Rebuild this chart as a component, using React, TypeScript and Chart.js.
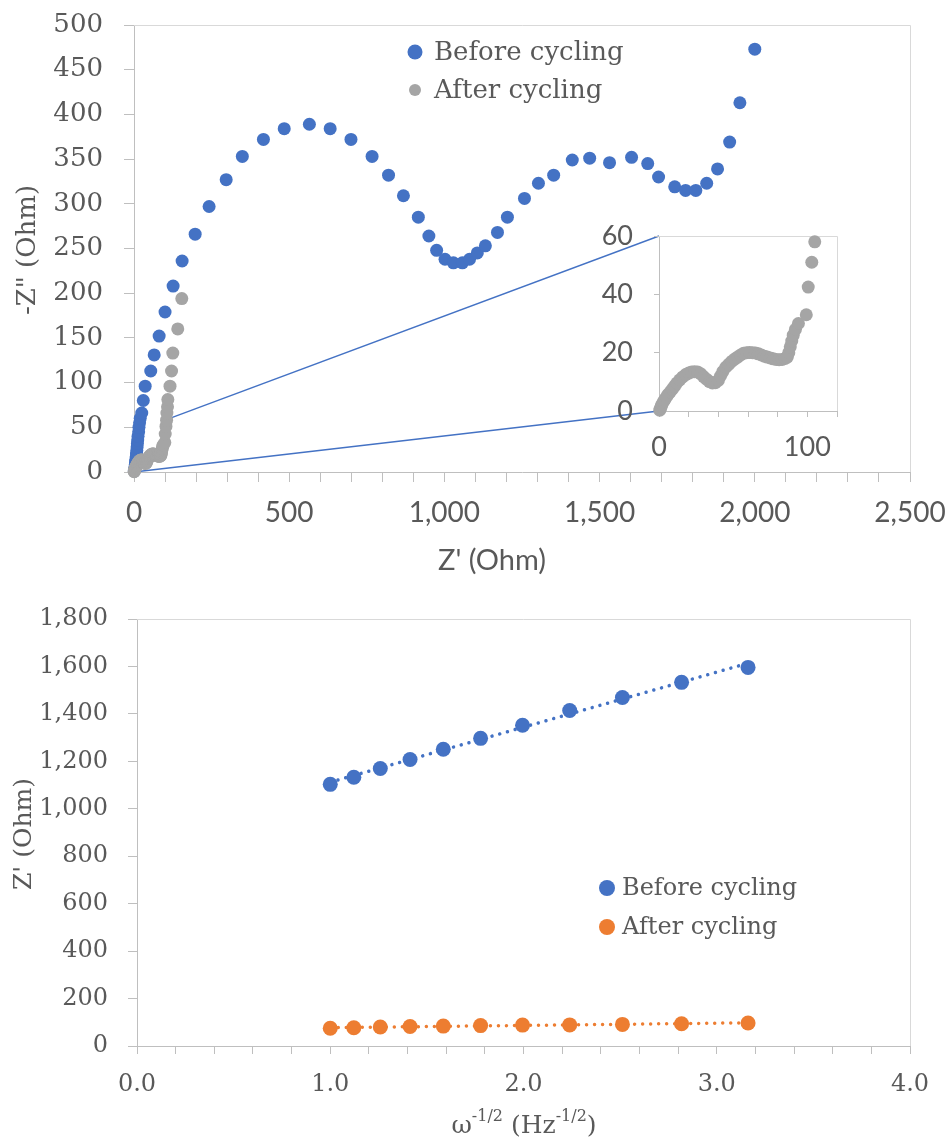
import React, { useEffect, useRef } from "react";
import { Chart, registerables } from "chart.js";

Chart.register(...registerables);

// ---------------- DATA ----------------
const seriesLabels = ["Before cycling", "After cycling"];

// Nyquist, before cycling: Z' (Ohm) and -Z'' (Ohm)
const beforeZre = [1, 2, 3, 4, 5, 6, 7, 8, 9, 10, 11, 12, 13, 15, 16, 18, 20, 25, 30, 36, 54, 65, 81, 100, 126,
  155, 197, 242, 297, 349, 417, 484, 565, 632, 699, 767, 820, 868, 916, 950, 975, 1002, 1029, 1058, 1081, 1106,
  1132, 1171, 1203, 1258, 1303, 1352, 1412, 1468, 1532, 1603, 1655, 1690, 1742, 1777, 1810, 1845, 1880, 1919,
  1952, 2000];
const beforeZim = [1, 3, 5, 8, 11, 14, 17, 20, 24, 28, 32, 36, 40, 45, 50, 55, 60, 66, 80, 96, 113, 131, 152, 179,
  208, 236, 266, 297, 327, 353, 372, 384, 389, 384, 372, 353, 332, 309, 285, 264, 248, 238, 234, 234, 238, 245,
  253, 268, 285, 306, 323, 332, 349, 351, 346, 352, 345, 330, 319, 315, 315, 323, 339, 369, 413, 473];

// Nyquist, after cycling
const afterZre = [0.5, 1, 1.5, 2, 3, 4, 5, 6, 7.5, 9, 10.5, 12, 14, 16, 18, 20, 22, 24, 26, 28, 30, 32, 34, 36, 38,
  40, 41.5, 43, 45, 47, 49, 51, 53, 55, 57, 59, 61, 63, 65, 67, 69, 71, 73, 75, 77, 79, 81, 83, 85, 86.5, 87.5,
  88.5, 89.5, 90.5, 92, 94, 99.3, 100.6, 103, 105, 106, 108, 109, 116, 121, 125, 141, 154];
const afterZim = [0.3, 0.9, 1.6, 2.3, 3.2, 4, 4.8, 5.6, 6.5, 7.5, 8.5, 9.6, 10.7, 11.7, 12.5, 13, 13.4, 13.5, 13.4,
  12.8, 11.8, 10.9, 10.1, 9.6, 9.7, 10.5, 12, 13.5, 15, 16, 17, 17.8, 18.5, 19.2, 19.8, 20, 20.1, 20, 19.9, 19.6,
  19.2, 18.8, 18.5, 18.2, 17.9, 17.7, 17.6, 17.7, 18, 18.5, 20, 22, 24, 26, 28, 30, 33, 42.5, 51, 58, 66, 73, 81,
  96, 113, 133, 160, 194];

// zoom connector source points in the main plot (Z', -Z'')
const zoomSourceX = [0, 115];
const zoomSourceY = [0, 60];

// Warburg plot: omega^-1/2 (Hz^-1/2) vs Z' (Ohm)
const warburgX = [1.0, 1.122, 1.259, 1.413, 1.585, 1.778, 1.995, 2.239, 2.512, 2.818, 3.162];
const warburgBefore = [1103, 1133, 1170, 1208, 1251, 1297, 1352, 1414, 1469, 1533, 1596];
const warburgAfter = [75, 77, 80, 82, 84, 86, 88, 89, 91, 94, 97];

// axis ranges / tick steps
const nyqX = { min: 0, max: 2500, step: 100, labelEvery: 500 };
const nyqY = { min: 0, max: 500, step: 50 };
const insetX = { min: 0, max: 120, step: 20, labelEvery: 100 };
const insetY = { min: 0, max: 60, step: 20 };
const warX = { min: 0, max: 4, step: 0.2, labelEvery: 1 };
const warY = { min: 0, max: 1800, step: 200 };

// ---------------- STYLE ----------------
const BLUE = "#4472C4";
const GRAY = "#A5A5A5";
const ORANGE = "#ED7D31";
const TEXT = "#595959";
const AXIS = "#BFBFBF";
const FRAME = "#D9D9D9";
const SERIF = '"DejaVu Serif", serif';
const SANS = 'Lato, "Open Sans", sans-serif';

const pts = (xs: number[], ys: number[]) => xs.map((x, i) => ({ x, y: ys[i] }));
const fmt = (v: number) => v.toLocaleString("en-US");
const isMultiple = (v: number, m: number) => Math.abs(v / m - Math.round(v / m)) < 1e-6;

function linearFit(xs: number[], ys: number[]) {
  const n = xs.length;
  const mx = xs.reduce((a, b) => a + b, 0) / n;
  const my = ys.reduce((a, b) => a + b, 0) / n;
  let sxy = 0, sxx = 0;
  for (let i = 0; i < n; i++) {
    sxy += (xs[i] - mx) * (ys[i] - my);
    sxx += (xs[i] - mx) * (xs[i] - mx);
  }
  const b = sxy / sxx;
  const a = my - b * mx;
  const x0 = Math.min(...xs), x1 = Math.max(...xs);
  return [{ x: x0, y: a + b * x0 }, { x: x1, y: a + b * x1 }];
}

// fix an axis' thickness and drop the label-overflow padding so the plot area lands where we want it
const fixSize = (prop: "width" | "height", value: number) => (s: any) => {
  s[prop] = value;
  s.paddingTop = 0;
  s.paddingBottom = 0;
  s.paddingLeft = 0;
  s.paddingRight = 0;
};

// ---------------- PLUGINS ----------------
const makeFramePlugin = () => ({
  id: "frame",
  beforeDatasetsDraw(chart: any) {
    const { left, top, right, bottom } = chart.chartArea;
    const ctx = chart.ctx;
    ctx.save();
    ctx.strokeStyle = FRAME;
    ctx.lineWidth = 1;
    ctx.beginPath();
    ctx.moveTo(left, Math.round(top) + 0.5);
    ctx.lineTo(Math.round(right) + 0.5, Math.round(top) + 0.5);
    ctx.lineTo(Math.round(right) + 0.5, bottom);
    ctx.stroke();
    ctx.restore();
  },
});

type Part = { t: string; sup?: boolean };
type TextItem = { parts: Part[]; x: number; y: number; size: number; family: string; rotate?: boolean };

const makeTextPlugin = (items: TextItem[]) => ({
  id: "texts",
  afterDraw(chart: any) {
    const ctx = chart.ctx;
    for (const it of items) {
      ctx.save();
      ctx.translate(it.x, it.y);
      if (it.rotate) ctx.rotate(-Math.PI / 2);
      ctx.fillStyle = TEXT;
      ctx.textBaseline = "middle";
      ctx.textAlign = "left";
      const supSize = Math.round(it.size * 0.62);
      let total = 0;
      const widths = it.parts.map((p) => {
        ctx.font = `${p.sup ? supSize : it.size}px ${it.family}`;
        const w = ctx.measureText(p.t).width;
        total += w;
        return w;
      });
      let cx = -total / 2;
      it.parts.forEach((p, i) => {
        ctx.font = `${p.sup ? supSize : it.size}px ${it.family}`;
        ctx.fillText(p.t, cx, p.sup ? -it.size * 0.36 : 0);
        cx += widths[i];
      });
      ctx.restore();
    }
  },
});

type LegendSpec = { x: number; y: number; gap: number; textGap: number; size: number };
const makeLegendPlugin = (spec: LegendSpec) => ({
  id: "customLegend",
  afterDraw(chart: any) {
    const ctx = chart.ctx;
    let i = 0;
    chart.data.datasets.forEach((ds: any) => {
      if (ds.inLegend === false) return;
      const y = spec.y + i * spec.gap;
      ctx.save();
      ctx.beginPath();
      ctx.arc(spec.x, y, ds.legendRadius ?? 7.5, 0, Math.PI * 2);
      ctx.fillStyle = ds.pointBackgroundColor;
      ctx.fill();
      ctx.font = `${spec.size}px ${SERIF}`;
      ctx.fillStyle = TEXT;
      ctx.textBaseline = "middle";
      ctx.textAlign = "left";
      ctx.fillText(ds.label, spec.x + spec.textGap, y + 1);
      ctx.restore();
      i++;
    });
  },
});

const makeConnectorPlugin = (getInset: () => { chart: any; left: number; top: number } | null) => ({
  id: "zoomConnectors",
  beforeDatasetsDraw(chart: any) {
    const inset = getInset();
    if (!inset || !inset.chart.chartArea) return;
    const ca = inset.chart.chartArea;
    const xs = chart.scales.x, ys = chart.scales.y;
    const ctx = chart.ctx;
    ctx.save();
    ctx.strokeStyle = BLUE;
    ctx.lineWidth = 1.4;
    zoomSourceX.forEach((zx, i) => {
      const tx = inset.left + ca.left;
      const ty = inset.top + (i === 0 ? ca.bottom : ca.top);
      ctx.beginPath();
      ctx.moveTo(xs.getPixelForValue(zx), ys.getPixelForValue(zoomSourceY[i]));
      ctx.lineTo(tx, ty);
      ctx.stroke();
    });
    ctx.restore();
  },
});

const axisGrid = (tickLength: number) => ({
  display: true,
  drawOnChartArea: false,
  drawTicks: true,
  tickLength,
  color: AXIS,
  lineWidth: 1,
});

const pointStyle = (color: string, r: number) => ({
  pointBackgroundColor: color,
  pointBorderColor: color,
  backgroundColor: color,
  borderColor: color,
  pointRadius: r,
  pointHoverRadius: r,
  pointBorderWidth: 0,
});

// ---------------- LAYOUT CONSTANTS ----------------
const INSET_LEFT = 560;
const INSET_TOP = 210;
const BOTTOM_TOP = 590;

export default function App() {
  const topRef = useRef<HTMLCanvasElement>(null);
  const insetRef = useRef<HTMLCanvasElement>(null);
  const bottomRef = useRef<HTMLCanvasElement>(null);

  useEffect(() => {
    if (!topRef.current || !insetRef.current || !bottomRef.current) return;

    const common = {
      responsive: false,
      animation: false as const,
      devicePixelRatio: 1,
      events: [] as any[],
    };

    // ---- inset chart ----
    const insetChart = new Chart(insetRef.current, {
      type: "scatter",
      data: {
        datasets: [
          { label: seriesLabels[1], data: pts(afterZre, afterZim), ...pointStyle(GRAY, 6.5), clip: 8 } as any,
        ],
      },
      options: {
        ...common,
        layout: { padding: { top: 26, right: 23, left: 0, bottom: 0 } },
        plugins: { legend: { display: false }, tooltip: { enabled: false } },
        scales: {
          x: {
            type: "linear",
            min: insetX.min,
            max: insetX.max,
            afterFit: fixSize("height", 59),
            ticks: {
              stepSize: insetX.step, autoSkip: false, maxRotation: 0, padding: 14, color: TEXT,
              font: { family: SANS, size: 27 },
              callback: (v: any) => (isMultiple(v, insetX.labelEvery) ? String(v) : ""),
            },
            grid: axisGrid(6),
            border: { display: true, color: AXIS },
          },
          y: {
            type: "linear",
            min: insetY.min,
            max: insetY.max,
            afterFit: fixSize("width", 99),
            ticks: {
              stepSize: insetY.step, padding: 21, color: TEXT, font: { family: SANS, size: 27 },
            },
            grid: axisGrid(5),
            border: { display: true, color: AXIS },
          },
        },
      } as any,
      plugins: [makeFramePlugin()],
    });

    // ---- main Nyquist chart ----
    const topChart = new Chart(topRef.current, {
      type: "scatter",
      data: {
        datasets: [
          { label: seriesLabels[0], data: pts(beforeZre, beforeZim), ...pointStyle(BLUE, 6.5), order: 1, clip: false, legendRadius: 7.5 } as any,
          { label: seriesLabels[1], data: pts(afterZre, afterZim), ...pointStyle(GRAY, 6.5), order: 0, clip: false, legendRadius: 6 } as any,
        ],
      },
      options: {
        ...common,
        layout: { padding: { top: 25, right: 40, left: 0, bottom: 0 } },
        plugins: { legend: { display: false }, tooltip: { enabled: false } },
        scales: {
          x: {
            type: "linear",
            min: nyqX.min,
            max: nyqX.max,
            afterFit: fixSize("height", 118),
            ticks: {
              stepSize: nyqX.step, autoSkip: false, maxRotation: 0, padding: 14, color: TEXT,
              font: { family: SANS, size: 28 },
              callback: (v: any) => (isMultiple(v, nyqX.labelEvery) ? fmt(v) : ""),
            },
            grid: axisGrid(10),
            border: { display: true, color: AXIS },
          },
          y: {
            type: "linear",
            min: nyqY.min,
            max: nyqY.max,
            afterFit: fixSize("width", 134),
            ticks: {
              stepSize: nyqY.step, padding: 21, color: TEXT, font: { family: SERIF, size: 26 },
              callback: (v: any) => fmt(v),
            },
            grid: axisGrid(10),
            border: { display: true, color: AXIS },
          },
        },
      } as any,
      plugins: [
        makeFramePlugin(),
        makeConnectorPlugin(() => ({ chart: insetChart, left: INSET_LEFT, top: INSET_TOP })),
        makeLegendPlugin({ x: 415, y: 52, gap: 38, textGap: 19, size: 26 }),
        makeTextPlugin([
          { parts: [{ t: '-Z" (Ohm)' }], x: 28, y: 250, size: 26, family: SERIF, rotate: true },
          { parts: [{ t: "Z' (Ohm)" }], x: 492, y: 561, size: 29, family: SANS },
        ]),
      ],
    });

    // ---- Warburg chart ----
    const fitBefore = linearFit(warburgX, warburgBefore);
    const fitAfter = linearFit(warburgX, warburgAfter);
    const trend = (color: string) => ({
      showLine: true,
      borderColor: color,
      backgroundColor: color,
      borderWidth: 3.5,
      borderDash: [0.01, 8],
      borderCapStyle: "round",
      pointRadius: 0,
      pointHoverRadius: 0,
      inLegend: false,
      order: 5,
      clip: false,
    });

    const bottomChart = new Chart(bottomRef.current, {
      type: "scatter",
      data: {
        datasets: [
          { label: seriesLabels[0], data: pts(warburgX, warburgBefore), ...pointStyle(BLUE, 7.5), order: 1, legendRadius: 8 } as any,
          { label: seriesLabels[1], data: pts(warburgX, warburgAfter), ...pointStyle(ORANGE, 7.5), order: 0, legendRadius: 8 } as any,
          { label: "Linear (Before cycling)", data: fitBefore, ...trend(BLUE) } as any,
          { label: "Linear (After cycling)", data: fitAfter, ...trend(ORANGE) } as any,
        ],
      },
      options: {
        ...common,
        layout: { padding: { top: 29, right: 40, left: 0, bottom: 0 } },
        plugins: { legend: { display: false }, tooltip: { enabled: false } },
        scales: {
          x: {
            type: "linear",
            min: warX.min,
            max: warX.max,
            afterFit: fixSize("height", 97),
            ticks: {
              stepSize: warX.step, autoSkip: false, maxRotation: 0, padding: 16, color: TEXT,
              font: { family: SERIF, size: 24 },
              callback: (v: any) => (isMultiple(v, warX.labelEvery) ? Number(v).toFixed(1) : ""),
            },
            grid: axisGrid(8),
            border: { display: true, color: AXIS },
          },
          y: {
            type: "linear",
            min: warY.min,
            max: warY.max,
            afterFit: fixSize("width", 137),
            ticks: {
              stepSize: warY.step, padding: 20, color: TEXT, font: { family: SERIF, size: 24 },
              callback: (v: any) => fmt(v),
            },
            grid: axisGrid(9),
            border: { display: true, color: AXIS },
          },
        },
      } as any,
      plugins: [
        makeFramePlugin(),
        makeLegendPlugin({ x: 607, y: 298, gap: 39, textGap: 15, size: 24 }),
        makeTextPlugin([
          { parts: [{ t: "Z' (Ohm)" }], x: 24, y: 244, size: 25, family: SERIF, rotate: true },
          {
            parts: [{ t: "ω" }, { t: "-1/2", sup: true }, { t: " (Hz" }, { t: "-1/2", sup: true }, { t: ")" }],
            x: 524, y: 536, size: 25, family: SERIF,
          },
        ]),
      ],
    });

    return () => {
      topChart.destroy();
      insetChart.destroy();
      bottomChart.destroy();
    };
  }, []);

  return (
    <div style={{ position: "absolute", left: 0, top: 0, width: 950, height: 1143, background: "#ffffff" }}>
      <canvas ref={topRef} width={950} height={590} style={{ position: "absolute", left: 0, top: 0 }} />
      <canvas ref={bottomRef} width={950} height={553} style={{ position: "absolute", left: 0, top: BOTTOM_TOP }} />
      <canvas ref={insetRef} width={300} height={260} style={{ position: "absolute", left: INSET_LEFT, top: INSET_TOP }} />
    </div>
  );
}
